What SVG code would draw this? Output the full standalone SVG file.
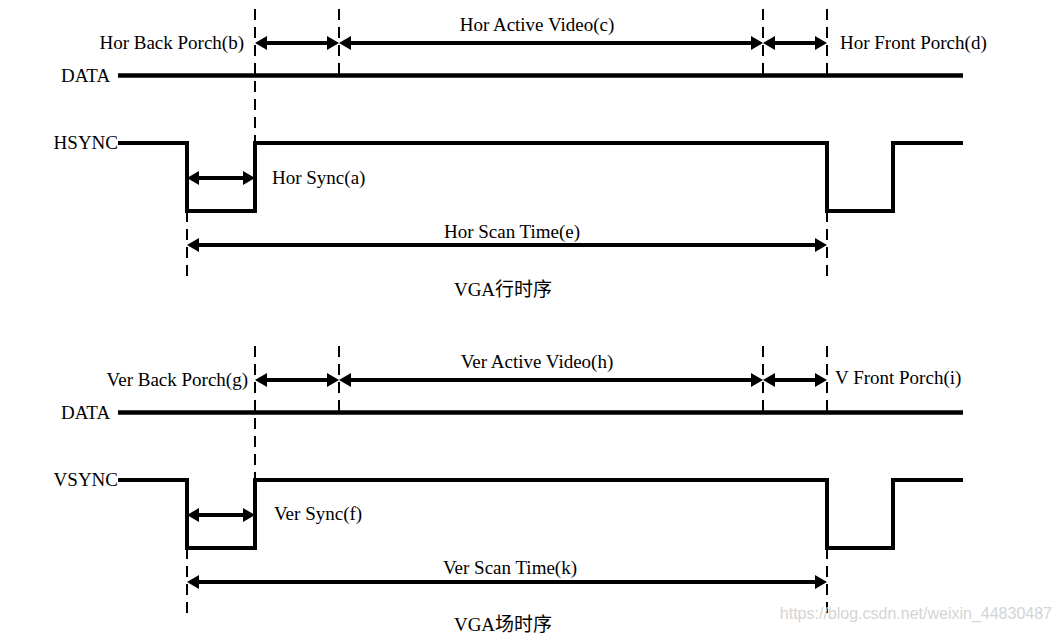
<svg xmlns="http://www.w3.org/2000/svg" width="1063" height="639" viewBox="0 0 1063 639">
<style>
.t{font-family:"Liberation Serif","Times New Roman",serif;font-size:19px;fill:#000}
.c{font-family:"Liberation Serif","Noto Sans CJK SC",serif;font-size:19px;fill:#000}
.w{stroke:#000;stroke-width:4;fill:none;stroke-linejoin:miter}
.d{stroke:#000;stroke-width:4.5;fill:none}
.dash{stroke:#000;stroke-width:2;stroke-dasharray:11 7;fill:none}
.a{stroke:#000;stroke-width:4;fill:none;marker-start:url(#ah);marker-end:url(#ah)}
.wm{font-family:"Liberation Sans",Arial,sans-serif;font-size:16px;fill:#d4d4d4}
</style>
<defs>
<marker id="ah" markerUnits="userSpaceOnUse" markerWidth="12" markerHeight="14" refX="7" refY="7" orient="auto-start-reverse" viewBox="0 0 12 14">
<path d="M0,0 L12,7 L0,14 z" fill="#000"/>
</marker>
</defs>
<rect width="1063" height="639" fill="#fff"/>

<g id="hor-timing">
<g id="hor-dashes">
<line class="dash" x1="255" y1="9" x2="255" y2="143"/>
<line class="dash" x1="339" y1="9" x2="339" y2="75"/>
<line class="dash" x1="763" y1="9" x2="763" y2="75"/>
<line class="dash" x1="827" y1="9" x2="827" y2="75"/>
<line class="dash" x1="187" y1="211" x2="187" y2="278"/>
<line class="dash" x1="827" y1="211" x2="827" y2="278"/>
</g>
<g id="hor-data">
<text class="t" x="61" y="82">DATA</text>
<line class="d" x1="118" y1="75.5" x2="963" y2="75.5"/>
</g>
<g id="hsync">
<text class="t" x="118" y="149" text-anchor="end">HSYNC</text>
<polyline class="w" points="118,143 187,143 187,211 255,211 255,143 827,143 827,211 893,211 893,143 963,143"/>
</g>
<g id="hor-connectors">
<line class="a" x1="260" y1="43" x2="334" y2="43"/>
<line class="a" x1="344" y1="43" x2="758" y2="43"/>
<line class="a" x1="768" y1="43" x2="822" y2="43"/>
<line class="a" x1="192" y1="178" x2="250" y2="178"/>
<line class="a" x1="192" y1="245" x2="822" y2="245"/>
</g>
<g id="hor-labels">
<text class="t" x="244" y="49" text-anchor="end">Hor Back Porch(b)</text>
<text class="t" x="537" y="31" text-anchor="middle">Hor Active Video(c)</text>
<text class="t" x="840" y="49">Hor Front Porch(d)</text>
<text class="t" x="272" y="184">Hor Sync(a)</text>
<text class="t" x="512" y="238" text-anchor="middle">Hor Scan Time(e)</text>
<text class="c" x="503" y="296" text-anchor="middle">VGA行时序</text>
</g>
</g>

<g id="ver-timing">
<g id="ver-dashes">
<line class="dash" x1="255" y1="346" x2="255" y2="480"/>
<line class="dash" x1="339" y1="346" x2="339" y2="412"/>
<line class="dash" x1="763" y1="346" x2="763" y2="412"/>
<line class="dash" x1="827" y1="346" x2="827" y2="412"/>
<line class="dash" x1="187" y1="548" x2="187" y2="615"/>
<line class="dash" x1="827" y1="548" x2="827" y2="615"/>
</g>
<g id="ver-data">
<text class="t" x="61" y="419">DATA</text>
<line class="d" x1="118" y1="412.5" x2="963" y2="412.5"/>
</g>
<g id="vsync">
<text class="t" x="118" y="486" text-anchor="end">VSYNC</text>
<polyline class="w" points="118,480 187,480 187,548 255,548 255,480 827,480 827,548 893,548 893,480 963,480"/>
</g>
<g id="ver-connectors">
<line class="a" x1="260" y1="380" x2="334" y2="380"/>
<line class="a" x1="344" y1="380" x2="758" y2="380"/>
<line class="a" x1="768" y1="380" x2="822" y2="380"/>
<line class="a" x1="192" y1="515" x2="250" y2="515"/>
<line class="a" x1="192" y1="582" x2="822" y2="582"/>
</g>
<g id="ver-labels">
<text class="t" x="248" y="386" text-anchor="end">Ver Back Porch(g)</text>
<text class="t" x="537" y="368" text-anchor="middle">Ver Active Video(h)</text>
<text class="t" x="835" y="384">V Front Porch(i)</text>
<text class="t" x="274" y="520">Ver Sync(f)</text>
<text class="t" x="510" y="574" text-anchor="middle">Ver Scan Time(k)</text>
<text class="c" x="503" y="631" text-anchor="middle">VGA场时序</text>
</g>
</g>

<text class="wm" x="1052" y="619" text-anchor="end">https://blog.csdn.net/weixin_44830487</text>
</svg>
